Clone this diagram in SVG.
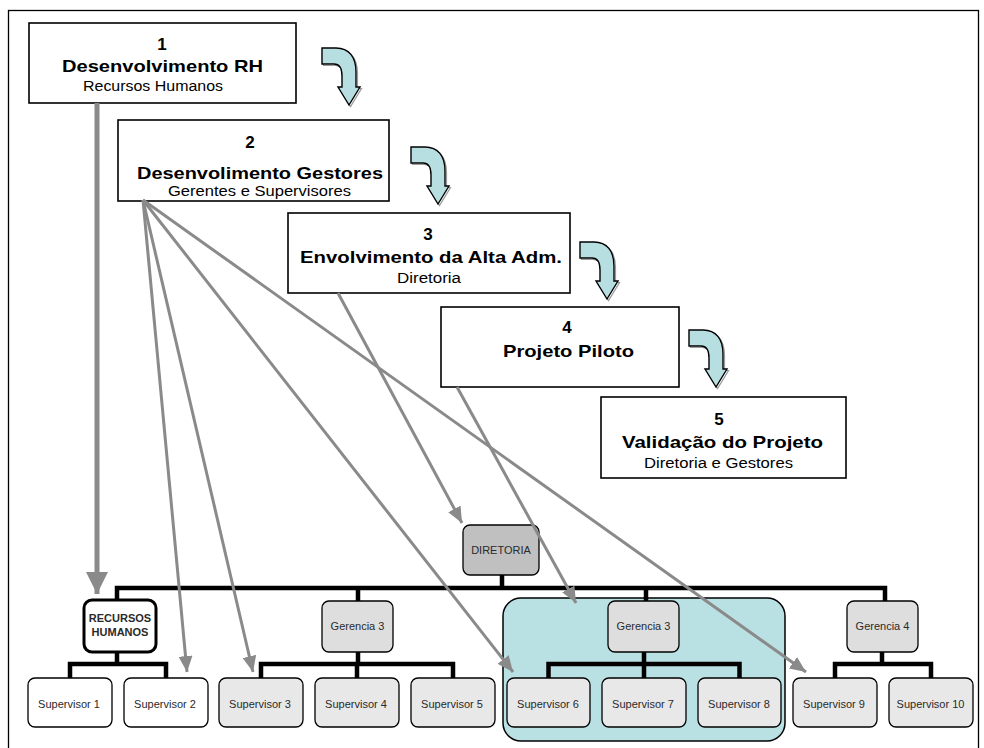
<svg xmlns="http://www.w3.org/2000/svg" xmlns:xlink="http://www.w3.org/1999/xlink" width="984" height="748" viewBox="0 0 984 748">
  <style>
    .step { fill: #ffffff; stroke: #000000; stroke-width: 1.6; }
    .num, .title { font-family: "Liberation Sans", Arial, sans-serif; font-weight: bold; font-size: 17px; fill: #000000; text-anchor: middle; }
    .sub { font-family: "Liberation Sans", Arial, sans-serif; font-size: 14px; fill: #000000; text-anchor: middle; }
    .turn { fill: #b7dfe2; stroke: #000000; stroke-width: 1.4; stroke-linejoin: miter; }
    .turn-shadow { fill: none; stroke: #9a9a9a; stroke-width: 1.2; }
    .org { stroke: #000000; stroke-width: 1.3; }
    .org-text { font-family: "Liberation Sans", Arial, sans-serif; font-size: 11px; fill: #2a2a2a; text-anchor: middle; }
    .bus { fill: none; stroke: #000000; stroke-width: 4.5; stroke-linecap: square; }
    .link { fill: none; stroke: #8a8a8a; stroke-width: 3; }
    .link-main { fill: none; stroke: #8a8a8a; stroke-width: 5; }
  </style>
  <defs>
    <!-- bent block arrow between the steps -->
    <path id="turn" d="M0,0 H14 C27,0 34,9 34,24 V39 H38 L27,57 L16,39 H20 V28 C20,20 17,16 12,16 H0 Z"/>
    <marker id="head" markerUnits="userSpaceOnUse" markerWidth="16" markerHeight="14" refX="16" refY="7" orient="auto">
      <path d="M0,0 L16,7 L0,14 Z" fill="#8a8a8a"/>
    </marker>
    <marker id="head-big" markerUnits="userSpaceOnUse" markerWidth="22" markerHeight="22" refX="22" refY="11" orient="auto">
      <path d="M0,0 L22,11 L0,22 Z" fill="#8a8a8a"/>
    </marker>
  </defs>

  <rect x="0" y="0" width="984" height="748" fill="#ffffff"/>
  <!-- page frame -->
  <rect x="8.5" y="10.5" width="970" height="760" fill="none" stroke="#000000" stroke-width="1.3"/>

  <!-- project steps -->
  <g id="step1">
    <rect class="step" x="29" y="23" width="267" height="80"/>
    <text class="num" x="162" y="50">1</text>
    <text class="title" x="162.5" y="72" textLength="201" lengthAdjust="spacingAndGlyphs">Desenvolvimento RH</text>
    <text class="sub" x="153" y="91" textLength="140" lengthAdjust="spacingAndGlyphs">Recursos Humanos</text>
  </g>
  <g id="step2">
    <rect class="step" x="118" y="120" width="271" height="81"/>
    <text class="num" x="250" y="148">2</text>
    <text class="title" x="260" y="179" textLength="246" lengthAdjust="spacingAndGlyphs">Desenvolimento Gestores</text>
    <text class="sub" x="259.5" y="196" textLength="183" lengthAdjust="spacingAndGlyphs">Gerentes e Supervisores</text>
  </g>
  <g id="step3">
    <rect class="step" x="288" y="213" width="282" height="80"/>
    <text class="num" x="428" y="240">3</text>
    <text class="title" x="431" y="263" textLength="262" lengthAdjust="spacingAndGlyphs">Envolvimento da Alta Adm.</text>
    <text class="sub" x="429" y="283" textLength="64" lengthAdjust="spacingAndGlyphs">Diretoria</text>
  </g>
  <g id="step4">
    <rect class="step" x="441" y="307" width="238" height="80"/>
    <text class="num" x="567" y="333">4</text>
    <text class="title" x="568.5" y="357" textLength="131" lengthAdjust="spacingAndGlyphs">Projeto Piloto</text>
  </g>
  <g id="step5">
    <rect class="step" x="601" y="397" width="245" height="81"/>
    <text class="num" x="719" y="425">5</text>
    <text class="title" x="722.5" y="448" textLength="201" lengthAdjust="spacingAndGlyphs">Validação do Projeto</text>
    <text class="sub" x="718.5" y="468" textLength="149" lengthAdjust="spacingAndGlyphs">Diretoria e Gestores</text>
  </g>

  <!-- flow arrows between steps -->
  <g id="step-flow">
    <use xlink:href="#turn" href="#turn" class="turn-shadow" x="323.5" y="49.5"/>
    <use xlink:href="#turn" href="#turn" class="turn" x="322" y="48"/>
    <use xlink:href="#turn" href="#turn" class="turn-shadow" x="412.5" y="148.5"/>
    <use xlink:href="#turn" href="#turn" class="turn" x="411" y="147"/>
    <use xlink:href="#turn" href="#turn" class="turn-shadow" x="581.5" y="243.5"/>
    <use xlink:href="#turn" href="#turn" class="turn" x="580" y="242"/>
    <use xlink:href="#turn" href="#turn" class="turn-shadow" x="690.5" y="331.5"/>
    <use xlink:href="#turn" href="#turn" class="turn" x="689" y="330"/>
  </g>

  <!-- highlighted pilot area -->
  <rect id="pilot-area" x="503" y="598" width="282" height="143" rx="18" ry="18" fill="#b9e0e3" stroke="#000000" stroke-width="1.5"/>

  <!-- org chart tree lines -->
  <g id="tree">
    <path class="bus" d="M502,575 V588 M117,588 H885 M117,588 V600 M358,588 V601 M646,588 V601 M885,588 V601"/>
    <path class="bus" d="M117,652 V664 M70,664 H166 M70,664 V678 M166,664 V678"/>
    <path class="bus" d="M358,652 V664 M261,664 H453 M261,664 V678 M357,664 V678 M453,664 V678"/>
    <path class="bus" d="M644,652 V664 M548.5,664 H739.5 M548.5,664 V678 M644,664 V678 M739.5,664 V678"/>
    <path class="bus" d="M882,652 V664 M835,664 H931 M835,664 V678 M931,664 V678"/>
  </g>

  <!-- org chart -->
  <g id="diretoria">
    <rect class="org" x="463" y="525" width="76" height="50" rx="7" fill="#c0c0c0"/>
    <text class="org-text" x="501" y="554">DIRETORIA</text>
  </g>
  <g id="recursos-humanos">
    <rect x="84" y="600" width="72" height="52" rx="8" fill="#ffffff" stroke="#000000" stroke-width="3"/>
    <text class="org-text" x="120" y="622" font-weight="bold" fill="#111">RECURSOS</text>
    <text class="org-text" x="120" y="636" font-weight="bold" fill="#111">HUMANOS</text>
  </g>
  <g id="gerencia-3a">
    <rect class="org" x="322" y="601" width="71" height="51" rx="7" fill="#dedede"/>
    <text class="org-text" x="357.5" y="630">Gerencia 3</text>
  </g>
  <g id="gerencia-3b">
    <rect class="org" x="608" y="601" width="71" height="51" rx="7" fill="#dedede"/>
    <text class="org-text" x="643.5" y="630">Gerencia 3</text>
  </g>
  <g id="gerencia-4">
    <rect class="org" x="847" y="601" width="71" height="51" rx="7" fill="#dedede"/>
    <text class="org-text" x="882.5" y="630">Gerencia 4</text>
  </g>

  <g id="supervisor-1">
    <rect class="org" x="28" y="678" width="84" height="49" rx="7" fill="#ffffff"/>
    <text class="org-text" x="69" y="708">Supervisor 1</text>
  </g>
  <g id="supervisor-2">
    <rect class="org" x="124" y="678" width="84" height="49" rx="7" fill="#ffffff"/>
    <text class="org-text" x="165" y="708">Supervisor 2</text>
  </g>
  <g id="supervisor-3">
    <rect class="org" x="219" y="678" width="84" height="49" rx="7" fill="#e8e8e8"/>
    <text class="org-text" x="260" y="708">Supervisor 3</text>
  </g>
  <g id="supervisor-4">
    <rect class="org" x="315" y="678" width="84" height="49" rx="7" fill="#e8e8e8"/>
    <text class="org-text" x="356" y="708">Supervisor 4</text>
  </g>
  <g id="supervisor-5">
    <rect class="org" x="411" y="678" width="84" height="49" rx="7" fill="#e8e8e8"/>
    <text class="org-text" x="452" y="708">Supervisor 5</text>
  </g>
  <g id="supervisor-6">
    <rect class="org" x="507" y="678" width="83" height="49" rx="7" fill="#e8e8e8"/>
    <text class="org-text" x="548" y="708">Supervisor 6</text>
  </g>
  <g id="supervisor-7">
    <rect class="org" x="602" y="678" width="84" height="49" rx="7" fill="#e8e8e8"/>
    <text class="org-text" x="643" y="708">Supervisor 7</text>
  </g>
  <g id="supervisor-8">
    <rect class="org" x="698" y="678" width="83" height="49" rx="7" fill="#e8e8e8"/>
    <text class="org-text" x="739" y="708">Supervisor 8</text>
  </g>
  <g id="supervisor-9">
    <rect class="org" x="793" y="678" width="84" height="49" rx="7" fill="#e8e8e8"/>
    <text class="org-text" x="834" y="708">Supervisor 9</text>
  </g>
  <g id="supervisor-10">
    <rect class="org" x="889" y="678" width="84" height="49" rx="7" fill="#e8e8e8"/>
    <text class="org-text" x="930.5" y="708">Supervisor 10</text>
  </g>

  <!-- links from steps to the chart -->
  <g id="connectors">
    <line class="link-main" x1="97" y1="103" x2="97" y2="594" marker-end="url(#head-big)"/>
    <line class="link" x1="143" y1="200" x2="187" y2="672" marker-end="url(#head)"/>
    <line class="link" x1="143" y1="200" x2="253" y2="672" marker-end="url(#head)"/>
    <line class="link" x1="143" y1="200" x2="513" y2="672" marker-end="url(#head)"/>
    <line class="link" x1="143" y1="200" x2="806" y2="672" marker-end="url(#head)"/>
    <line class="link" x1="338" y1="293" x2="462" y2="523" marker-end="url(#head)"/>
    <line class="link" x1="457" y1="387" x2="576" y2="603" marker-end="url(#head)"/>
  </g>
</svg>
